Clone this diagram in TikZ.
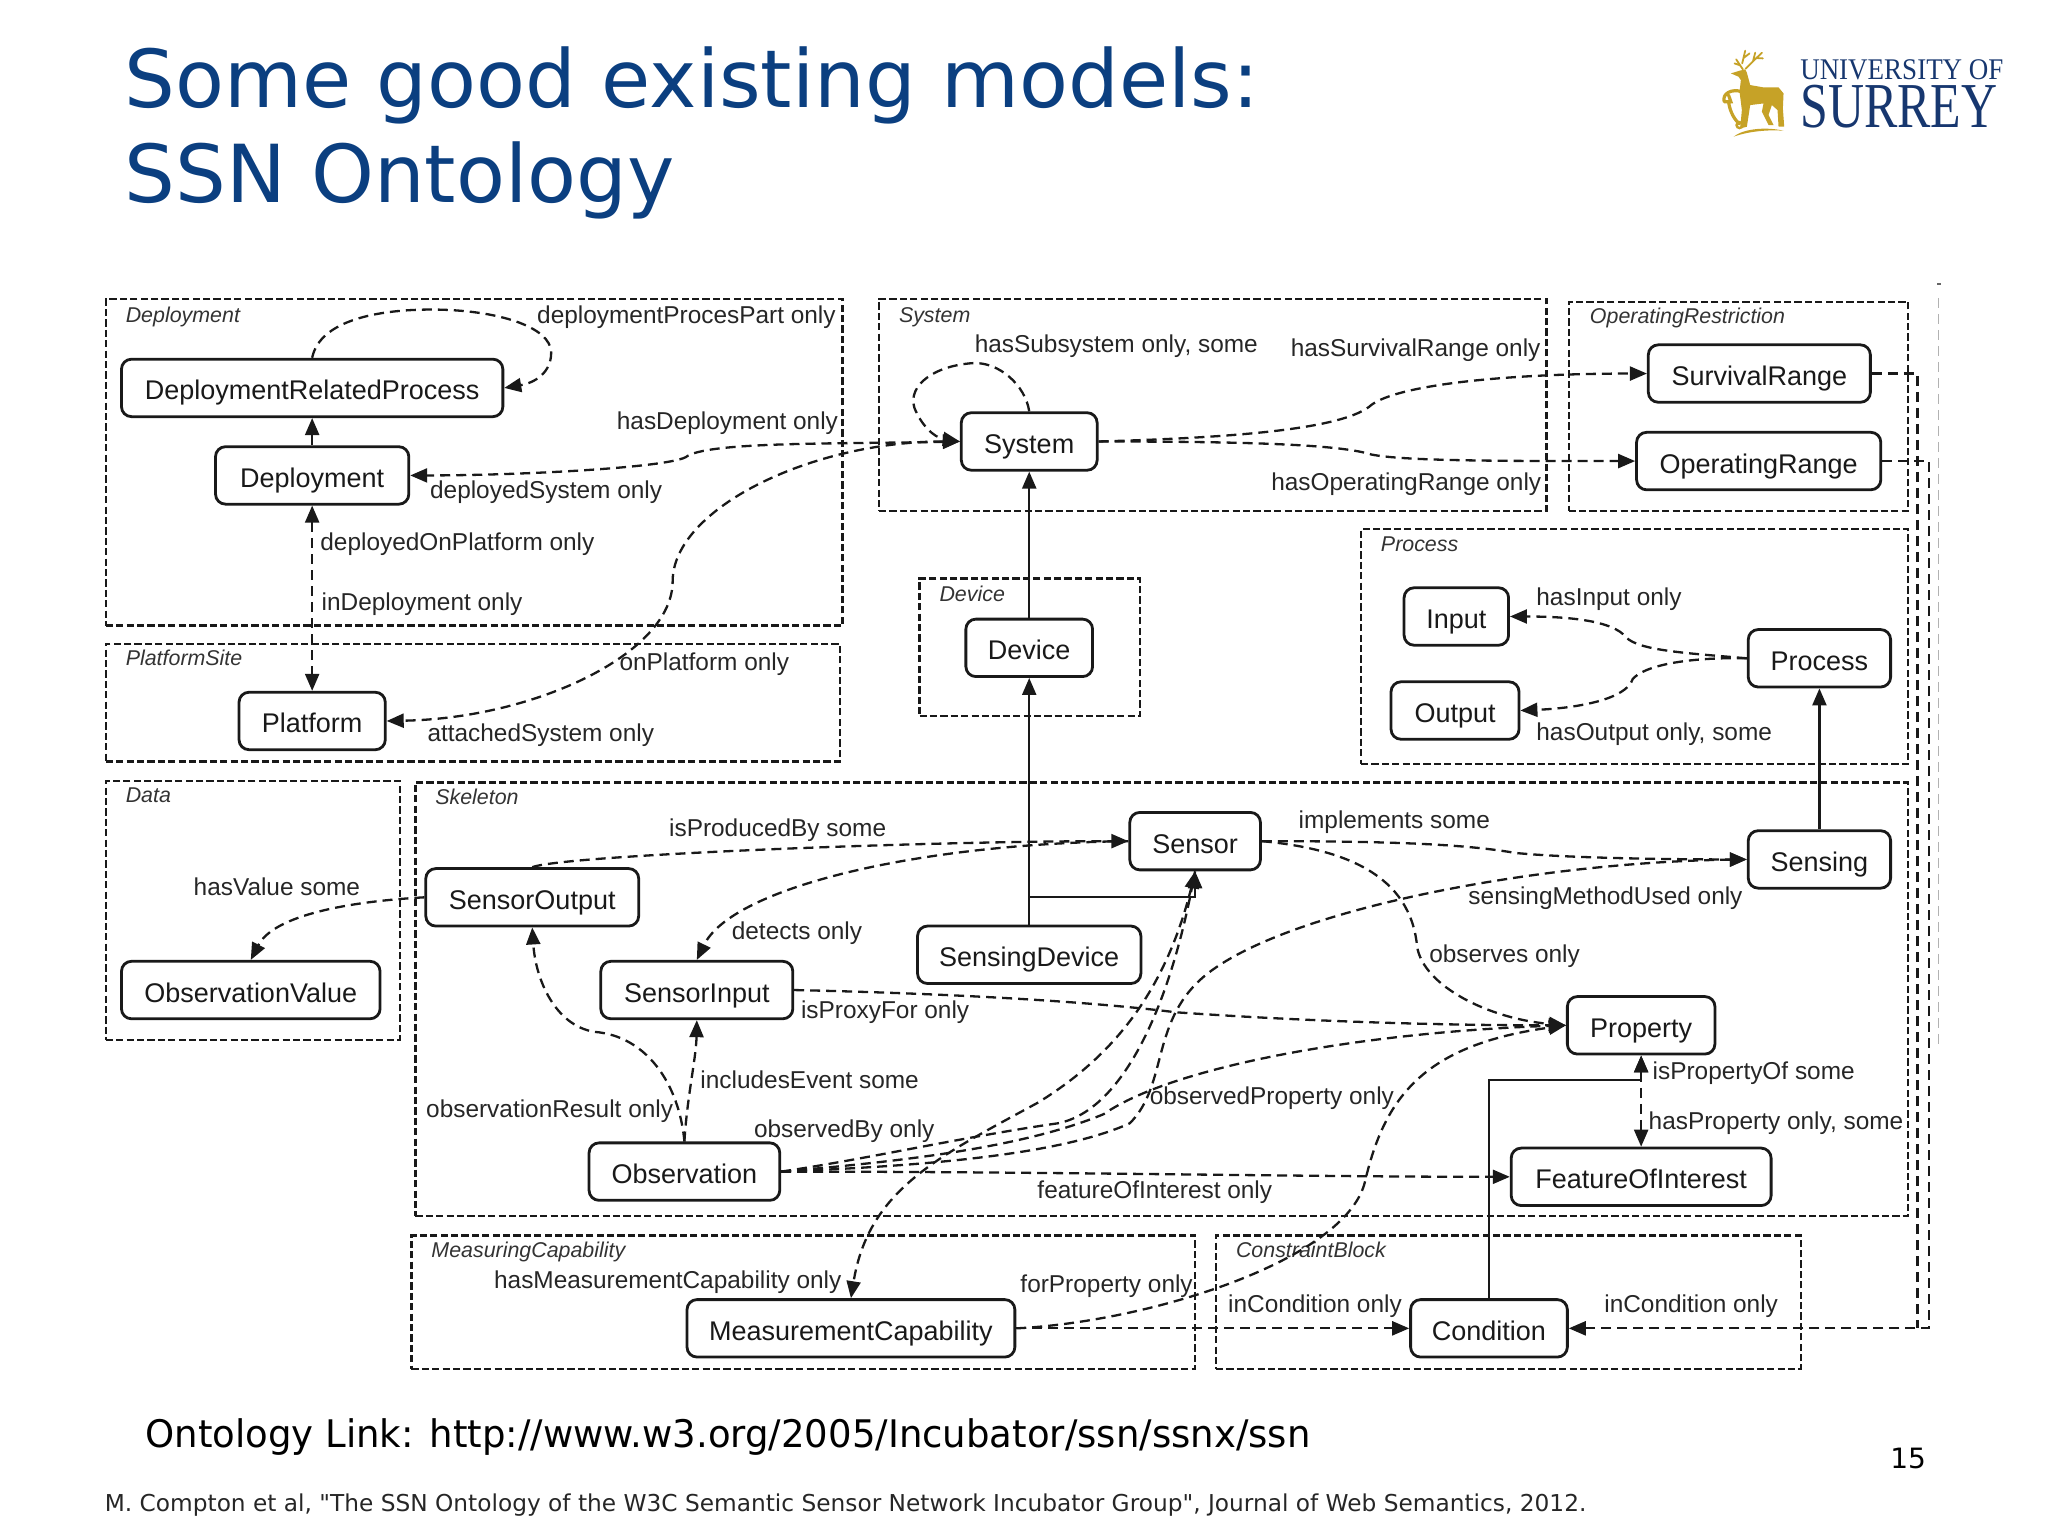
\documentclass[tikz,border=0pt]{standalone}
\usepackage{fontspec}
\setmainfont{Liberation Sans}
\newfontfamily\verd{DejaVu Sans}
\newfontfamily\linkfont[FakeStretch=0.975]{DejaVu Sans}
\newfontfamily\logofonta[FakeStretch=0.9]{Liberation Serif}
\newfontfamily\logofontb[FakeStretch=0.78]{Liberation Serif}
\usetikzlibrary{arrows.meta}
\newcommand{\uu}{0.653pt}
\definecolor{titleblue}{HTML}{0B3F80}
\definecolor{logoblue}{HTML}{17376F}
\definecolor{stag}{HTML}{C6A227}
\tikzset{
  cls/.style={draw=black!90,line width=1.4pt,rounded corners=5pt,inner sep=0pt,font=\fontsize{13.5}{16}\selectfont,text=black!90,text height=15pt,text depth=3pt},
  grp/.style={draw=black!90,line width=1.15pt,dash pattern=on 3.6pt off 1.6pt,inner sep=0pt},
  grplbl/.style={anchor=west,inner sep=0pt,font=\fontsize{10.7}{12}\selectfont\itshape,text=black!80,text height=9.3pt,text depth=2pt},
  lbl/.style={anchor=west,inner sep=0pt,font=\fontsize{12.2}{14}\selectfont,text=black!85,text height=11.6pt,text depth=3pt},
  tip/.style={-{Triangle[length=8.5pt,width=7pt]}},
  both/.style={{Triangle[length=8.5pt,width=7pt]}-{Triangle[length=8.5pt,width=7pt]}},
  rel/.style={line width=1.15pt,dash pattern=on 5pt off 3pt,black!90},
  sub/.style={line width=1.15pt,black!90},
}
\begin{document}
\begin{tikzpicture}[x=0.653pt,y=-0.653pt]
\useasboundingbox (0,0) rectangle (1568,1176);
% Title and footer
\node[anchor=base west,inner sep=0pt,text=titleblue,font=\verd\fontsize{40}{44}\selectfont] (title1) at (95,82) {Some good existing models:};
\node[anchor=base west,inner sep=0pt,text=titleblue,font=\verd\fontsize{40}{44}\selectfont] (title2) at (95,155) {SSN Ontology};
\node[anchor=base west,inner sep=0pt,font=\linkfont\fontsize{19}{22}\selectfont] (link) at (111,1108) {Ontology Link: http://www.w3.org/2005/Incubator/ssn/ssnx/ssn};
\node[anchor=base west,inner sep=0pt,font=\verd\fontsize{14}{16}\selectfont] (pageno) at (1447,1124) {15};
\node[anchor=base west,inner sep=0pt,text=black!85,font=\verd\fontsize{11.63}{13}\selectfont] (cite) at (80,1157) {M. Compton et al, "The SSN Ontology of the W3C Semantic Sensor Network Incubator Group", Journal of Web Semantics, 2012.};
% Logo
\node[anchor=base west,inner sep=0pt,text=logoblue,font=\logofonta\fontsize{15}{17}\selectfont] (logo1) at (1378,61) {UNIVERSITY OF};
\node[anchor=base west,inner sep=0pt,text=logoblue,font=\logofontb\fontsize{32}{36}\selectfont] (logo2) at (1378,97.5) {SURREY};
\begin{scope}[shift={(1301.7,23)},x=0.1667pt,y=-0.1667pt]
  \fill[stag] (92,130) -- (118,122) -- (135,118) -- (140,128) -- (150,165) -- (190,172) -- (235,172) -- (250,190) -- (248,235) -- (252,290) -- (235,290) -- (232,240) -- (215,225) -- (205,255) -- (220,285) -- (205,285) -- (185,245) -- (190,220) -- (150,225) -- (140,290) -- (120,295) -- (125,240) -- (118,185) -- (122,150) -- (115,140) -- cycle;
  \draw[stag,line width=0.9pt,line cap=round] (128,118) -- (108,88) (120,106) -- (103,100) (126,100) -- (135,62) (130,84) -- (148,70) (136,116) -- (185,68) (158,95) -- (165,68) (170,84) -- (188,85);
  \fill[stag] (100,320) .. controls (130,295) and (200,290) .. (250,302) .. controls (200,298) and (140,305) .. (100,320) -- cycle;
  \draw[stag,line width=1.6pt,line cap=round] (72,215) .. controls (65,190) and (95,175) .. (125,185) (72,215) -- (92,215) -- (85,195) (85,215) .. controls (90,250) and (105,270) .. (118,282);
  \draw[stag,line width=1.2pt] (118,285) circle (9);
\end{scope}
% Groups
\node[grp,minimum width=564*\uu,minimum height=250*\uu] (gdep) at (363,354) {};
\node[grp,minimum width=562*\uu,minimum height=90*\uu] (gplat) at (362,538) {};
\node[grp,minimum width=511*\uu,minimum height=162*\uu] (gsys) at (928.5,310) {};
\node[grp,minimum width=260*\uu,minimum height=160*\uu] (gop) at (1331,311) {};
\node[grp,minimum width=169*\uu,minimum height=105*\uu] (gdev) at (788.5,495.5) {};
\node[grp,minimum width=419*\uu,minimum height=180*\uu] (gproc) at (1251.5,495) {};
\node[grp,minimum width=225*\uu,minimum height=198*\uu] (gdata) at (193.5,697) {};
\node[grp,minimum width=1143*\uu,minimum height=332*\uu] (gskel) at (889.5,765) {};
\node[grp,minimum width=600*\uu,minimum height=102*\uu] (gmeas) at (615,997) {};
\node[grp,minimum width=448*\uu,minimum height=102*\uu] (gcons) at (1155,997) {};
\node[grplbl] (ldep) at (96,241) {Deployment};
\node[grplbl] (lplat) at (96,504) {PlatformSite};
\node[grplbl] (lsys) at (688,241) {System};
\node[grplbl] (lop) at (1217,242) {OperatingRestriction};
\node[grplbl] (ldev) at (719,455) {Device};
\node[grplbl] (lproc) at (1057,417) {Process};
\node[grplbl] (ldata) at (96,609) {Data};
\node[grplbl] (lskel) at (333,610) {Skeleton};
\node[grplbl] (lmeas) at (330,957) {MeasuringCapability};
\node[grplbl] (lcons) at (946,957) {ConstraintBlock};
% Classes
\node[cls,minimum width=292*\uu,minimum height=44*\uu] (drp) at (239,297) {DeploymentRelatedProcess};
\node[cls,minimum width=148*\uu,minimum height=44*\uu] (deployment) at (239,364) {Deployment};
\node[cls,minimum width=112*\uu,minimum height=44*\uu] (platform) at (239,552) {Platform};
\node[cls,minimum width=104*\uu,minimum height=44*\uu] (system) at (788,338) {System};
\node[cls,minimum width=170*\uu,minimum height=44*\uu] (survival) at (1347,286) {SurvivalRange};
\node[cls,minimum width=187*\uu,minimum height=44*\uu] (operating) at (1346.5,353) {OperatingRange};
\node[cls,minimum width=97*\uu,minimum height=44*\uu] (device) at (788,496) {Device};
\node[cls,minimum width=80*\uu,minimum height=44*\uu] (input) at (1115,472) {Input};
\node[cls,minimum width=98*\uu,minimum height=44*\uu] (output) at (1114,544) {Output};
\node[cls,minimum width=109*\uu,minimum height=44*\uu] (process) at (1393,504) {Process};
\node[cls,minimum width=163*\uu,minimum height=44*\uu] (sensoroutput) at (407.5,687) {SensorOutput};
\node[cls,minimum width=198*\uu,minimum height=44*\uu] (obsvalue) at (192,758) {ObservationValue};
\node[cls,minimum width=100*\uu,minimum height=44*\uu] (sensor) at (915,644) {Sensor};
\node[cls,minimum width=109*\uu,minimum height=44*\uu] (sensing) at (1393,658) {Sensing};
\node[cls,minimum width=171*\uu,minimum height=44*\uu] (sensingdevice) at (788,731) {SensingDevice};
\node[cls,minimum width=147*\uu,minimum height=44*\uu] (sensorinput) at (533.5,758) {SensorInput};
\node[cls,minimum width=113*\uu,minimum height=44*\uu] (property) at (1256.5,785) {Property};
\node[cls,minimum width=146*\uu,minimum height=44*\uu] (observation) at (524,897) {Observation};
\node[cls,minimum width=199*\uu,minimum height=44*\uu] (foi) at (1256.5,901) {FeatureOfInterest};
\node[cls,minimum width=251*\uu,minimum height=44*\uu] (mcap) at (651.5,1017) {MeasurementCapability};
\node[cls,minimum width=120*\uu,minimum height=44*\uu] (condition) at (1140,1017) {Condition};
% Solid subclass arrows
\draw[sub,tip] (deployment.north) -- (drp.south);
\draw[sub,tip] (device.north) -- (system.south);
\draw[sub,tip] (sensingdevice.north) -- (device.south);
\coordinate (j1) at (788,687);
\coordinate (j2) at (1256.5,827);
\draw[sub,tip] (j1) -| (sensor.south);
\draw[sub,tip] (sensing.north) -- (process.south);
\draw[sub,tip] (condition.north) |- (j2) -- (property.south);
% Dashed relations
\draw[rel,tip] (drp.north) .. controls (245,245) and (290,237) .. (330,237) .. controls (380,237) and (422,250) .. (422,270) .. controls (422,285) and (410,293) .. (drp.east);
\draw[rel,both] (system.west) .. controls (640,340) and (540,338) .. (525,350) .. controls (510,358) and (400,364) .. (deployment.east);
\draw[rel,both] (system.west) .. controls (620,338) and (515,390) .. (515,445) .. controls (515,500) and (410,550) .. (platform.east);
\draw[rel,both] (deployment.south) -- (platform.north);
\draw[rel,tip] (system.north) .. controls (785,295) and (765,277) .. (745,278) .. controls (715,280) and (695,295) .. (700,312) .. controls (705,325) and (715,335) .. (system.west);
\draw[rel,tip] (system.east) .. controls (950,335) and (1030,328) .. (1050,310) .. controls (1070,295) and (1150,286) .. (survival.west);
\draw[rel,tip] (system.east) .. controls (950,338) and (1025,340) .. (1050,348) .. controls (1075,353) and (1150,353) .. (operating.west);
\draw[rel,tip] (process.west) .. controls (1290,500) and (1255,498) .. (1245,488) .. controls (1235,475) and (1200,472) .. (input.east);
\draw[rel,tip] (process.west) .. controls (1290,503) and (1258,510) .. (1250,520) .. controls (1245,535) and (1210,542) .. (output.east);
\draw[rel,tip] (sensoroutput.west) .. controls (270,690) and (210,700) .. (obsvalue.north);
\draw[rel,tip] (sensoroutput.north) .. controls (430,655) and (700,644) .. (sensor.west);
\draw[rel,tip] (sensor.west) .. controls (700,646) and (560,680) .. (sensorinput.north);
\draw[rel,tip] (observation.north) .. controls (520,830) and (495,793) .. (455,790) .. controls (425,785) and (410,750) .. (sensoroutput.south);
\draw[rel,tip] (observation.north) .. controls (526,840) and (533,810) .. (sensorinput.south);
\draw[rel,tip] (sensor.east) .. controls (1060,644) and (1120,646) .. (1160,653) .. controls (1200,657) and (1280,658) .. (sensing.west);
\draw[rel,tip] (sensor.east) .. controls (1030,650) and (1080,670) .. (1085,725) .. controls (1090,755) and (1140,780) .. (property.west);
\draw[rel,tip] (sensorinput.east) .. controls (700,760) and (820,765) .. (900,775) .. controls (1000,782) and (1100,785) .. (property.west);
\draw[rel,tip] (sensor.south) .. controls (895,760) and (850,810) .. (795,844) .. controls (720,885) and (665,910) .. (mcap.north);
\draw[rel,tip] (observation.east) .. controls (660,888) and (740,870) .. (810,860) .. controls (860,850) and (895,770) .. (sensor.south);
\draw[rel,tip] (observation.east) .. controls (680,890) and (780,880) .. (845,853) .. controls (900,815) and (1050,790) .. (property.west);
\draw[rel,tip] (observation.east) .. controls (700,893) and (810,885) .. (865,860) .. controls (895,830) and (880,780) .. (925,745) .. controls (990,695) and (1180,660) .. (sensing.west);
\draw[rel,tip] (observation.east) .. controls (800,897) and (1000,901) .. (foi.west);
\draw[rel,both] (property.south) -- (foi.north);
\draw[rel,tip] (mcap.east) -- (condition.west);
\draw[rel,tip] (mcap.east) .. controls (880,1012) and (1030,965) .. (1045,905) .. controls (1060,840) and (1090,800) .. (property.west);
\coordinate (c1) at (1468,286);
\coordinate (c2) at (1477,353);
\coordinate (c3) at (1468,1017);
\coordinate (c4) at (1477,1017);
\draw[rel] (survival.east) -- (c1) -- (c3);
\draw[rel,tip] (operating.east) -- (c2) -- (c4) -- (condition.east);
\coordinate (g1) at (1484,228);
\coordinate (g2) at (1484,800);
\coordinate (g0) at (1483,217);
\draw[black!30,line width=0.6pt,dash pattern=on 5pt off 3pt] (g1) -- (g2);
\fill[black!60] (g0) rectangle ++(3,1.4);
% Relation labels
\node[lbl] (t1) at (411,241) {deploymentProcesPart only};
\node[lbl] (t2) at (472,322) {hasDeployment only};
\node[lbl] (t3) at (329,375) {deployedSystem only};
\node[lbl] (t4) at (245,415) {deployedOnPlatform only};
\node[lbl] (t5) at (246,461) {inDeployment only};
\node[lbl] (t6) at (474,507) {onPlatform only};
\node[lbl] (t7) at (327,561) {attachedSystem only};
\node[lbl] (t8) at (746,263) {hasSubsystem only, some};
\node[lbl] (t9) at (988,266) {hasSurvivalRange only};
\node[lbl] (t10) at (973,369) {hasOperatingRange only};
\node[lbl] (t11) at (1176,457) {hasInput only};
\node[lbl] (t12) at (1176,560) {hasOutput only, some};
\node[lbl] (t13) at (512,634) {isProducedBy some};
\node[lbl] (t14) at (994,628) {implements some};
\node[lbl] (t15) at (1124,686) {sensingMethodUsed only};
\node[lbl] (t16) at (148,679) {hasValue some};
\node[lbl] (t17) at (560,713) {detects only};
\node[lbl] (t18) at (613,773) {isProxyFor only};
\node[lbl] (t19) at (1094,730) {observes only};
\node[lbl] (t20) at (536,827) {includesEvent some};
\node[lbl] (t21) at (326,849) {observationResult only};
\node[lbl] (t22) at (577,864) {observedBy only};
\node[lbl] (t23) at (880,839) {observedProperty only};
\node[lbl] (t24) at (1265,820) {isPropertyOf some};
\node[lbl] (t25) at (1262,858) {hasProperty only, some};
\node[lbl] (t26) at (794,911) {featureOfInterest only};
\node[lbl] (t27) at (378,980) {hasMeasurementCapability only};
\node[lbl] (t28) at (781,983) {forProperty only};
\node[lbl] (t29) at (940,998) {inCondition only};
\node[lbl] (t30) at (1228,998) {inCondition only};
\end{tikzpicture}
\end{document}
